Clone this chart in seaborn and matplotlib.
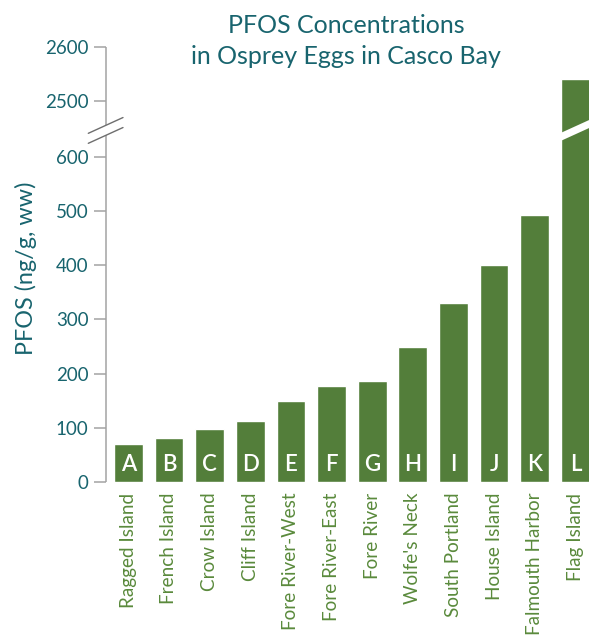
import numpy as np
import pandas as pd
import matplotlib
matplotlib.use("Agg")
import matplotlib.pyplot as plt
from matplotlib.lines import Line2D
from matplotlib.patches import Polygon
from matplotlib.transforms import IdentityTransform
import seaborn as sns

# --- data -------------------------------------------------------------
sites = ["Ragged Island", "French Island", "Crow Island", "Cliff Island",
         "Fore River-West", "Fore River-East", "Fore River", "Wolfe's Neck",
         "South Portland", "House Island", "Falmouth Harbor", "Flag Island"]
letters = ["A", "B", "C", "D", "E", "F", "G", "H", "I", "J", "K", "L"]
pfos = [70, 80, 97, 112, 150, 177, 186, 249, 330, 400, 493, 2541]
yticks = [0, 100, 200, 300, 400, 500, 600, 2500, 2600]

df = pd.DataFrame({"site": sites, "pfos": pfos, "letter": letters})

# --- style --------------------------------------------------------------
GREEN = "#537E3A"
TEAL = "#18646E"
GREY = "#A3A3A3"
sns.set_theme(style="white")
plt.rcParams["font.family"] = ["Lato", "DejaVu Sans"]

# broken y axis: values between LO and HI are squeezed out
LO, HI = 650.0, 2446.0
GAP = HI - LO


def fwd(v):
    v = np.asarray(v, dtype=float)
    return np.where(v <= LO, v, np.where(v >= HI, v - GAP, LO))


def inv(u):
    u = np.asarray(u, dtype=float)
    return np.where(u <= LO, u, u + GAP)


W, H = 589, 635
DPI = 100
fig = plt.figure(figsize=(W / DPI, H / DPI), dpi=DPI)
ax = fig.add_axes([106 / W, (H - 481.7) / H, (W - 106) / W, (481.7 - 47) / H])

sns.barplot(data=df, x="site", y="pfos", color=GREEN, saturation=1,
            width=0.706, ax=ax)
ax.set_yscale("function", functions=(fwd, inv))
ax.set_ylim(0, 2600)
ax.set_xlim(-0.55, 11.335)
ax.set_yticks(yticks)
ax.set_yticklabels([str(t) for t in yticks])
ax.minorticks_off()

for s in ["top", "right", "bottom", "left"]:
    ax.spines[s].set_visible(False)

ax.tick_params(axis="y", direction="out", length=8.5, width=1.1, color=GREY,
               pad=4, labelsize=13.5, labelcolor=TEAL, left=True)
ax.tick_params(axis="x", length=0, pad=8, labelsize=13.6, labelcolor="#5A8A3C")
plt.setp(ax.get_xticklabels(), rotation=90, ha="center", va="top")

ax.set_xlabel("")
ax.set_ylabel("PFOS (ng/g, ww)", fontsize=16.8, color=TEAL)
ax.yaxis.set_label_coords(-0.143, 0.49)

# letters inside bars
for i, let in enumerate(letters):
    ax.text(i, 20, let, ha="center", va="baseline", color="white",
            fontsize=16, fontweight="semibold")

# title
fig.text(346 / W, 1 - 33 / H, "PFOS Concentrations", ha="center",
         va="baseline", color=TEAL, fontsize=18)
fig.text(346 / W, 1 - 64 / H, "in Osprey Eggs in Casco Bay", ha="center",
         va="baseline", color=TEAL, fontsize=18)

# axis break: split spine, slashes, and a cut through the tall bar
fig.canvas.draw()
trans = ax.transData
x0, y_break = trans.transform((-0.55, LO))
_, y_bot = trans.transform((0, 0))
_, y_top = trans.transform((0, 2600))
half = 5.0
slope = 0.455
seg_kw = dict(transform=IdentityTransform(), color=GREY, lw=1.1,
              solid_capstyle="butt")
fig.add_artist(Line2D([x0, x0], [y_bot, y_break - half], **seg_kw))
fig.add_artist(Line2D([x0, x0], [y_break + half, y_top], **seg_kw))
for off in (-half, half):
    xs = np.array([x0 - 17.7, x0 + 17.0])
    ys = y_break + off + slope * (xs - x0)
    fig.add_artist(Line2D(xs, ys, transform=IdentityTransform(),
                          color="#6E6E6E", lw=1.0))

bar = ax.patches[-1]
bx0 = bar.get_x()
bx1 = bx0 + bar.get_width()
px0, _ = trans.transform((bx0, LO))
px1, _ = trans.transform((bx1, LO))
xc = (px0 + px1) / 2
xl, xr = px0 - 3, px1 + 3
band = Polygon([[xl, y_break - 4 + slope * (xl - xc)],
                [xr, y_break - 4 + slope * (xr - xc)],
                [xr, y_break + 4 + slope * (xr - xc)],
                [xl, y_break + 4 + slope * (xl - xc)]],
               closed=True, transform=IdentityTransform(), facecolor="white",
               edgecolor="none")
fig.add_artist(band)

fig.savefig("out.png", dpi=DPI)
